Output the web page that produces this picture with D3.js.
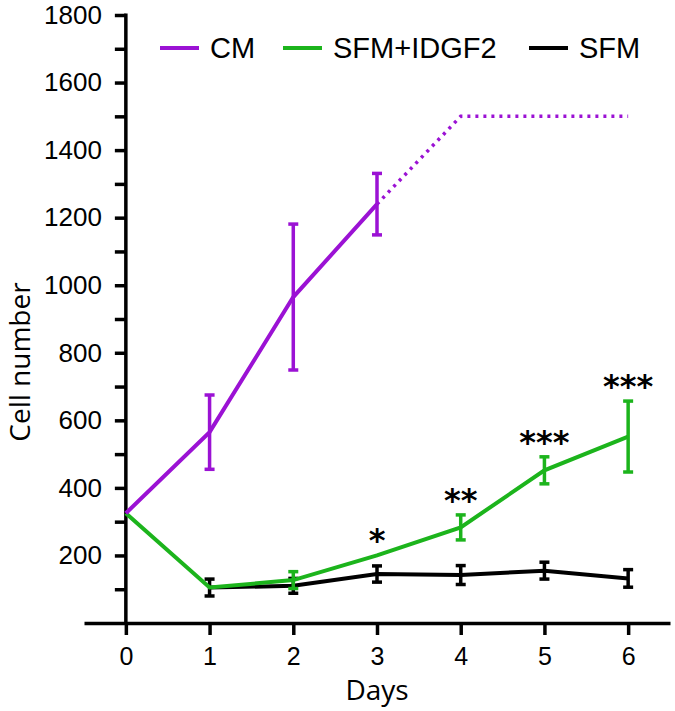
<!DOCTYPE html>
<html>
<head>
<meta charset="utf-8">
<script src="https://cdn.jsdelivr.net/npm/d3@7"></script>
<style>
  body { margin: 0; background: #fff; }
  svg { display: block; }
</style>
</head>
<body>
<div id="chart"></div>
<script>
'use strict'

/*
 @Data: values
*/
let days = [0, 1, 2, 3, 4, 5, 6]
let cmDays = [0, 1, 2, 3]
let cmMean = [325, 565, 965, 1240]
let cmErr = [0, 110, 216, 91]
let cmProjDays = [3, 4, 5, 6]
let cmProj = [1240, 1500, 1500, 1500]
let idgfMean = [325, 105, 127, 200, 283, 452, 552]
let idgfErr = [0, 0, 25, 0, 37, 40, 105]
let sfmDays = [1, 2, 3, 4, 5, 6]
let sfmMean = [105, 110, 145, 142, 155, 132]
let sfmErr = [25, 22, 24, 28, 25, 26]
let stars = ["", "", "", "*", "**", "***", "***"]
let yTicks = d3.range(100, 1801, 100)
let legendLabels = ["CM", "SFM+IDGF2", "SFM"]

/*
 @Constants: setup
*/
let width = 675
let height = 711
let purple = "#9b12d4"
let green = "#1cb41c"
let black = "#000"
let colors = [purple, green, black]
let capW = 5

let x = d3.scaleLinear().domain([-0.5, 6.5]).range([84, 670])
let y = d3.scaleLinear().domain([0, 1800]).range([623, 15])

let svg = d3.select("#chart").append("svg")
  .attr("width", width)
  .attr("height", height)

// y axis
let yAxis = d3.axisLeft(y)
  .tickValues(yTicks)
  .tickSize(11)
  .tickSizeOuter(0)
  .tickPadding(13)
  .tickFormat(d => d % 200 === 0 ? d : "")

let gy = svg.append("g")
  .attr("transform", "translate(" + x(0) + ",0)")
  .call(yAxis)
gy.select(".domain").attr("stroke-width", 3.5).attr("d", "M0," + y(0) + "V" + (y(1800) - 1.5))
gy.selectAll(".tick line").attr("stroke-width", 3.5)
gy.selectAll("text")
  .style("font-family", "'Liberation Sans', Arial, sans-serif")
  .style("font-size", "26px")
  .attr("fill", "#000")

// x axis
let xAxis = d3.axisBottom(x)
  .tickValues(days)
  .tickFormat(d3.format("d"))
  .tickSize(12)
  .tickSizeOuter(0)
  .tickPadding(12)

let gx = svg.append("g")
  .attr("transform", "translate(0," + y(0) + ")")
  .call(xAxis)
gx.select(".domain").attr("stroke-width", 3.5)
gx.selectAll(".tick line").attr("stroke-width", 3.5)
gx.selectAll("text")
  .style("font-family", "'Liberation Sans', Arial, sans-serif")
  .style("font-size", "25px")
  .attr("fill", "#000")

// axis titles
svg.append("text")
  .attr("x", x(3))
  .attr("y", 700)
  .attr("text-anchor", "middle")
  .style("font-family", "'Open Sans', sans-serif")
  .style("font-size", "28px")
  .text("Days")

svg.append("text")
  .attr("transform", "translate(30," + 362 + ") rotate(-90)")
  .attr("text-anchor", "middle")
  .style("font-family", "'Open Sans', sans-serif")
  .style("font-size", "28px")
  .text("Cell number")

let line = d3.line()
  .x(d => x(d[0]))
  .y(d => y(d[1]))

/*
  Error bars with caps
*/
function errorBars(dd, mean, err, col) {
  let g = svg.append("g")
    .attr("stroke", col)
    .attr("stroke-width", 3.5)
    .attr("fill", "none")
  dd.forEach(function (d, i) {
    if (!err[i]) return
    let lo = y(mean[i] - err[i]), hi = y(mean[i] + err[i])
    g.append("line").attr("x1", x(d)).attr("x2", x(d)).attr("y1", lo).attr("y2", hi)
    g.append("line").attr("x1", x(d) - capW).attr("x2", x(d) + capW).attr("y1", lo).attr("y2", lo)
    g.append("line").attr("x1", x(d) - capW).attr("x2", x(d) + capW).attr("y1", hi).attr("y2", hi)
  })
}

// SFM
svg.append("path")
  .datum(d3.zip(sfmDays, sfmMean))
  .attr("d", line)
  .attr("fill", "none")
  .attr("stroke", black)
  .attr("stroke-width", 4)
errorBars(sfmDays, sfmMean, sfmErr, black)

// SFM+IDGF2
svg.append("path")
  .datum(d3.zip(days, idgfMean))
  .attr("d", line)
  .attr("fill", "none")
  .attr("stroke", green)
  .attr("stroke-width", 4)
errorBars(days, idgfMean, idgfErr, green)

// CM
svg.append("path")
  .datum(d3.zip(cmDays, cmMean))
  .attr("d", line)
  .attr("fill", "none")
  .attr("stroke", purple)
  .attr("stroke-width", 4)
svg.append("path")
  .datum(d3.zip(cmProjDays, cmProj))
  .attr("d", line)
  .attr("fill", "none")
  .attr("stroke", purple)
  .attr("stroke-width", 3.5)
  .attr("stroke-dasharray", "3,5")
errorBars(cmDays, cmMean, cmErr, purple)

// significance stars
svg.append("g").selectAll("text")
  .data(days)
  .enter()
  .append("text")
  .attr("x", d => x(d))
  .attr("y", (d, i) => y(idgfMean[i] + idgfErr[i]) - 4)
  .attr("text-anchor", "middle")
  .style("font-family", "'DejaVu Sans', sans-serif")
  .style("font-weight", "bold")
  .style("font-size", "32px")
  .text((d, i) => stars[i])

// legend
let legendX = [160, 283, 529]
let legend = svg.selectAll(".legend")
  .data(legendLabels)
  .enter()
  .append("g")
  .attr("class", "legend")
  .attr("transform", (d, i) => "translate(" + legendX[i] + ",48)")

legend.append("line")
  .attr("x1", 0).attr("x2", 39)
  .attr("stroke", (d, i) => colors[i])
  .attr("stroke-width", 4)

legend.append("text")
  .attr("x", 50)
  .attr("y", 10)
  .style("font-family", "'Liberation Sans', Arial, sans-serif")
  .style("font-size", "29px")
  .text(d => d)
</script>
</body>
</html>
